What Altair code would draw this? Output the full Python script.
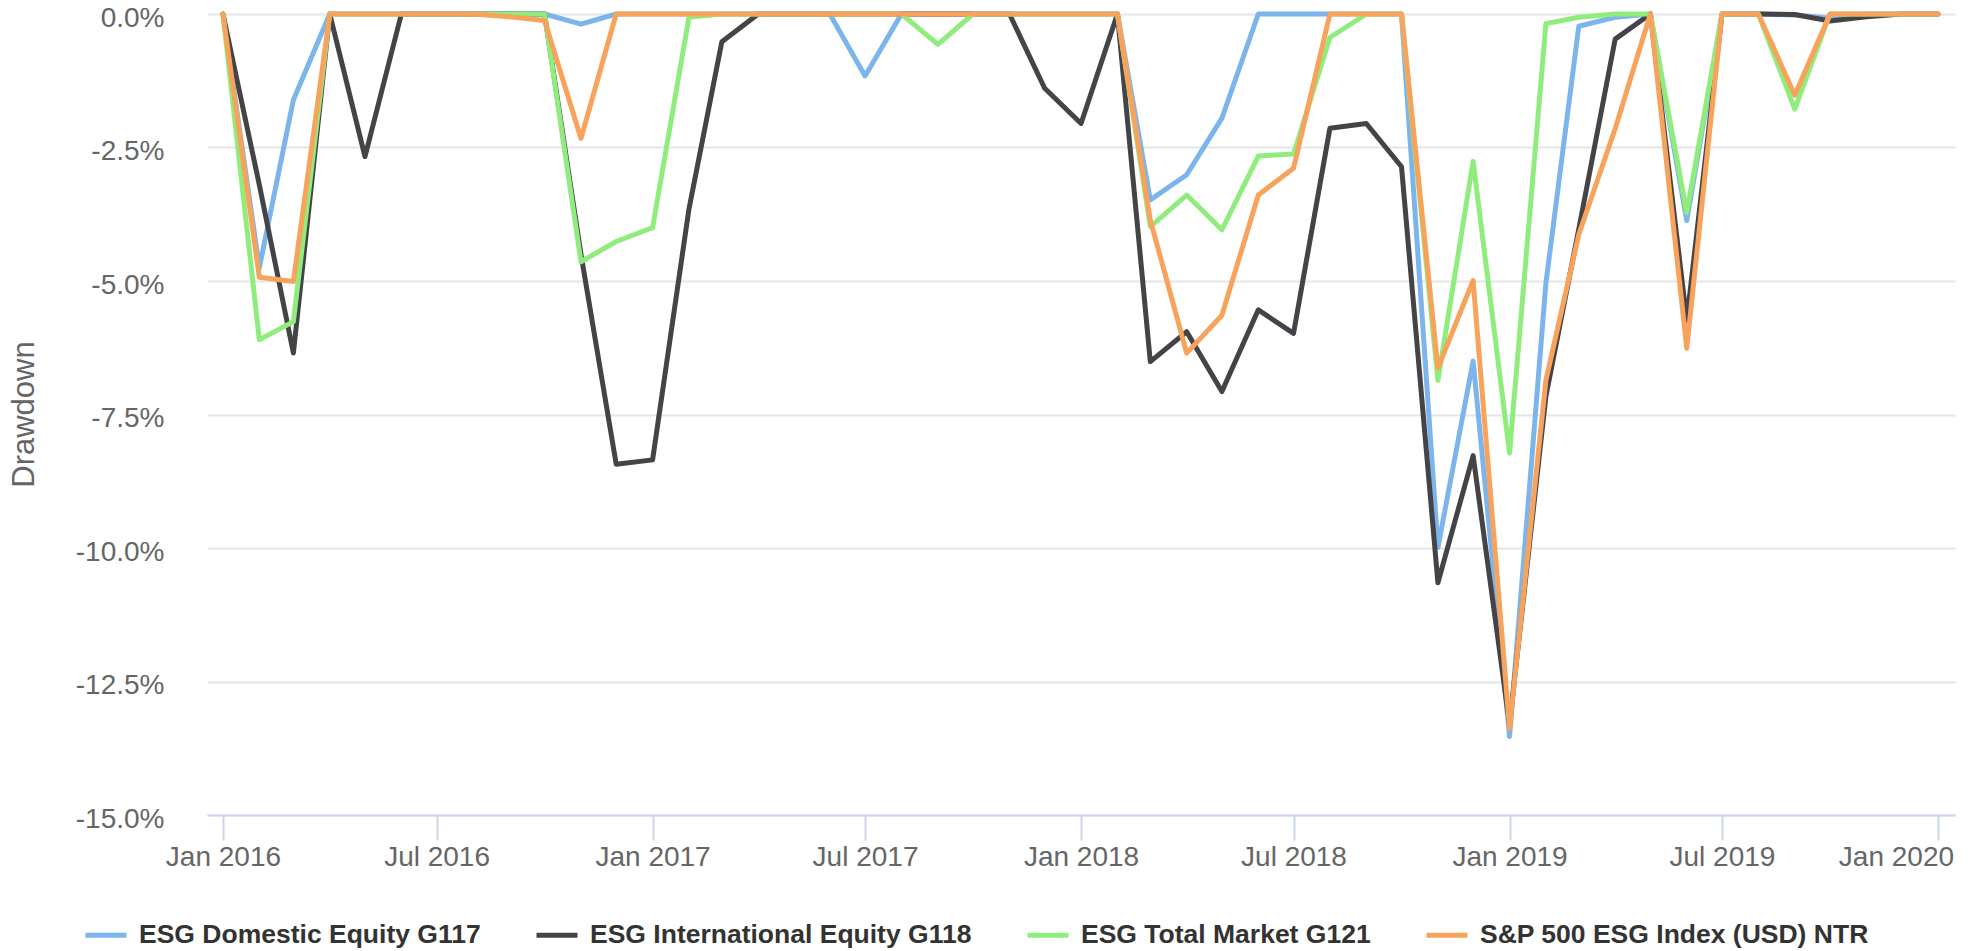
import altair as alt
import pandas as pd

months = pd.date_range("2016-01-01", "2020-01-01", freq="MS").strftime("%Y-%m-%d").tolist()

series_names = [
    "ESG Domestic Equity G117",
    "ESG International Equity G118",
    "ESG Total Market G121",
    "S&P 500 ESG Index (USD) NTR",
]
series_colors = ["#7cb5ec", "#434348", "#90ed7d", "#f7a35c"]

domestic = [0, -4.75, -1.61, 0, 0, 0, 0, 0, 0, 0, -0.19, 0, 0, 0, 0, 0, 0, 0, -1.16, 0,
            0, 0, 0, 0, 0, 0, -3.48, -3.01, -1.95, 0, 0, 0, 0, 0, -9.99, -6.5, -13.53, -5.04, -0.23, -0.06,
            0, -3.87, 0, 0, -0.02, -0.08, 0, 0, 0]
international = [0, -3.2, -6.35, 0, -2.67, 0, 0, 0, 0, 0, -4.5, -8.43, -8.35, -3.65, -0.52, 0, 0, 0, 0, 0,
                 0, 0, 0, -1.39, -2.05, 0, -6.51, -5.95, -7.07, -5.54, -5.98, -2.14, -2.05, -2.86, -10.65, -8.27, -13.3, -7.16, -4.03, -0.47,
                 0, -5.74, 0, 0, -0.01, -0.13, -0.05, 0, 0]
total_market = [0, -6.1, -5.76, 0, 0, 0, 0, 0, 0, 0, -4.64, -4.26, -4.0, -0.06, 0, 0, 0, 0, 0, 0,
                -0.57, 0, 0, 0, 0, 0, -3.98, -3.39, -4.04, -2.66, -2.62, -0.44, 0, 0, -6.86, -2.76, -8.22, -0.18, -0.06, 0,
                0, -3.72, 0, 0, -1.78, 0, 0, 0, 0]
sp500_esg = [0, -4.93, -5.01, 0, 0, 0, 0, 0, -0.05, -0.12, -2.33, 0, 0, 0, 0, 0, 0, 0, 0, 0,
             0, 0, 0, 0, 0, 0, -3.86, -6.35, -5.64, -3.39, -2.89, 0, 0, 0, -6.63, -4.99, -13.38, -6.86, -4.13, -2.15,
             0, -6.26, 0, 0, -1.52, 0, 0, 0, 0]

y_ticks = [0, -2.5, -5, -7.5, -10, -12.5, -15]

all_values = [domestic, international, total_market, sp500_esg]
rows = []
for name, vals in zip(series_names, all_values):
    for m, v in zip(months, vals):
        rows.append({"date": m, "series": name, "drawdown": v})
df = pd.DataFrame(rows)

FONT = "Liberation Sans"

x_enc = alt.X(
    "date:T",
    scale=alt.Scale(
        type="utc",
        domain=[alt.DateTime(year=2015, month=12, date=18, hours=10, utc=True),
                alt.DateTime(year=2020, month=1, date=15, hours=12, utc=True)],
        nice=False,
    ),
    axis=alt.Axis(
        title=None,
        values=[alt.DateTime(year=y, month=mo, date=1, utc=True)
                for y in range(2016, 2021) for mo in (1, 7) if not (y == 2020 and mo == 7)],
        labelExpr="utcFormat(datum.value, '%b %Y')",
        labelFont=FONT, labelFontSize=28, labelColor="#666666",
        labelBaseline="alphabetic", labelPadding=25, labelOverlap=False,
        labelOffset={"condition": {"test": "utcyear(datum.value) == 2020", "value": -42}, "value": 0},
        tickSize=25, tickColor="#ccd6eb", tickWidth=2,
        domainColor="#ccd6eb", domainWidth=2, grid=False, zindex=1,
    ),
)
y_enc = alt.Y(
    "drawdown:Q",
    scale=alt.Scale(domain=[-15, 0], nice=False, zero=False),
    axis=alt.Axis(
        title="Drawdown", titleFont=FONT, titleFontSize=31, titleFontWeight="normal",
        titleColor="#666666", titleAngle=270, titleX=-183, titleY=400,
        titleAlign="center", titleBaseline="middle",
        values=y_ticks,
        labelExpr="(datum.value < 0 ? '-' : '') + format(abs(datum.value), '.1f') + '%'",
        labelFont=FONT, labelFontSize=28, labelColor="#666666",
        labelPadding=43, labelOffset=4, labelBaseline="middle",
        domain=False, ticks=False,
        grid=True, gridColor="#e6e6e6", gridWidth=2,
    ),
)
color_enc = alt.Color(
    "series:N",
    scale=alt.Scale(domain=series_names, range=series_colors),
    sort=series_names,
    legend=alt.Legend(
        title=None, orient="none", legendX=-124, legendY=898,
        direction="horizontal", columns=4, columnPadding=45,
        symbolType="stroke", symbolStrokeWidth=5, symbolSize=1681,
        labelFont=FONT, labelFontSize=26.5, labelFontWeight="bold", labelColor="#333333",
        labelOffset=10, labelLimit=0, padding=0,
    ),
)

layers = []
for name in series_names:
    layers.append(
        alt.Chart(df)
        .transform_filter(alt.datum.series == name)
        .mark_line(strokeWidth=5, strokeJoin="round", strokeCap="round")
        .encode(x=x_enc, y=y_enc, color=color_enc)
    )

chart = (
    alt.layer(*layers)
    .properties(
        width=1748, height=801,
        autosize=alt.AutoSizeParams(type="none"),
        padding={"left": 199, "top": 6, "right": 16, "bottom": 138},
    )
    .configure_view(stroke=None)
)

chart.save("out.html", embed_options={"renderer": "svg", "actions": False})
